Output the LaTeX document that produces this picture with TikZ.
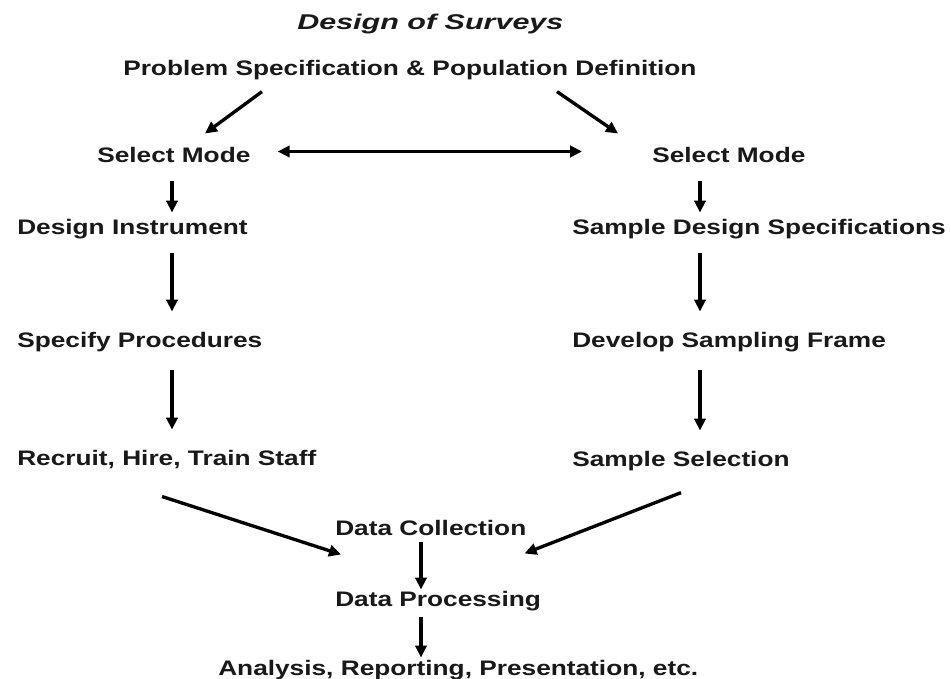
\documentclass[tikz,border=0pt]{standalone}
\usepackage{fontspec}
\setmainfont{Liberation Sans}[FakeStretch=1.25]
\newfontfamily\titlefont{Liberation Sans}[FakeStretch=1.43]
\usetikzlibrary{arrows.meta,calc}
\begin{document}
\begin{tikzpicture}[x=0.75pt,y=-0.75pt,
  lbl/.style={anchor=base west,inner sep=0pt,text=black!90,font=\fontsize{15.75}{18}\selectfont\bfseries},
  ttl/.style={anchor=base west,inner sep=0pt,text=black!90,font=\titlefont\fontsize{16}{19}\selectfont\bfseries\itshape},
  tip/.tip={Triangle[length=9pt,width=8.5pt]},
  arr/.style={line width=2.5pt,-tip},
  darr/.style={line width=2.5pt,tip-tip}]
\path[use as bounding box,fill=white] (0,0) rectangle (951,679);
\node[ttl] (title) at (297,29) {Design of Surveys};
\node[lbl] (prob) at (123,75) {Problem Specification \& Population Definition};
\node[lbl] (sm1) at (97,162) {Select Mode};
\node[lbl] (sm2) at (652,162) {Select Mode};
\node[lbl] (di) at (17,234) {Design Instrument};
\node[lbl] (sds) at (572,234) {Sample Design Specifications};
\node[lbl] (sp) at (17,347) {Specify Procedures};
\node[lbl] (dsf) at (572,347) {Develop Sampling Frame};
\node[lbl] (rht) at (17,465) {Recruit, Hire, Train Staff};
\node[lbl] (ss) at (572,466) {Sample Selection};
\node[lbl] (dc) at (335,535) {Data Collection};
\node[lbl] (dp) at (335,606) {Data Processing};
\node[lbl] (an) at (218,675) {Analysis, Reporting, Presentation, etc.};
\coordinate (colL) at (172,0);
\coordinate (colR) at (700,0);
\coordinate (colM) at (421,0);
% top diagonals
\draw[arr] ($(prob.south west)+(139,12)$) -- ($(sm1.north west)+(108,-13)$);
\draw[arr] ($(prob.south west)+(434,12)$) -- ($(sm2.north west)+(-34,-13)$);
\draw[darr] ($(sm1.east)+(27,-3)$) -- ($(sm2.west)+(-70,-3)$);
% left column
\draw[arr] ($(sm1.south -| colL)+(0,19)$) -- ($(di.north -| colL)+(0,-6)$);
\draw[arr] ($(di.south -| colL)+(0,14)$) -- ($(sp.north -| colL)+(0,-20)$);
\draw[arr] ($(sp.south -| colL)+(0,18)$) -- ($(rht.north -| colL)+(0,-20)$);
% right column
\draw[arr] ($(sm2.south -| colR)+(0,19)$) -- ($(sds.north -| colR)+(0,-6)$);
\draw[arr] ($(sds.south -| colR)+(0,14)$) -- ($(dsf.north -| colR)+(0,-20)$);
\draw[arr] ($(dsf.south -| colR)+(0,18)$) -- ($(ss.north -| colR)+(0,-20)$);
% converging
\draw[arr] ($(rht.south west)+(145,28)$) -- ($(dc.south west)+(6,19)$);
\draw[arr] ($(ss.south west)+(109,22)$) -- ($(dc.south east)+(-2,18)$);
% bottom column
\draw[arr] ($(dc.south -| colM)+(0,7)$) -- ($(dp.north -| colM)+(0,-1)$);
\draw[arr] ($(dp.south -| colM)+(0,6)$) -- ($(an.north -| colM)+(0,-2)$);
\end{tikzpicture}
\end{document}
